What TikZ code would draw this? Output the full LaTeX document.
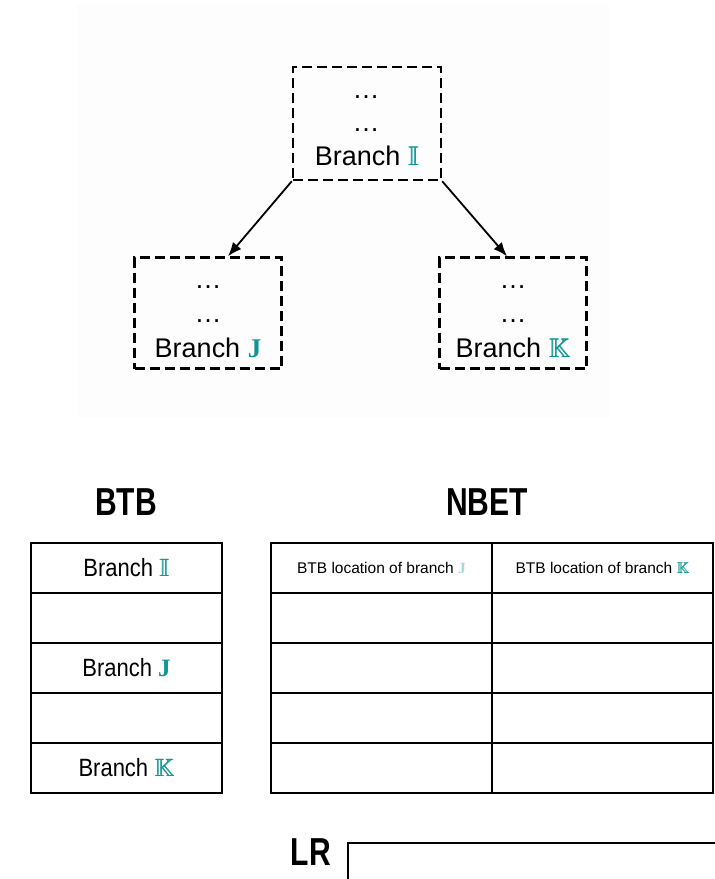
\documentclass[tikz,border=0pt]{standalone}
\usepackage{fontspec}
\usepackage{amssymb}
\setmainfont{Liberation Sans}
\newfontfamily\cellsans[FakeStretch=0.88]{Liberation Sans}
\newfontfamily\titlesans[FakeStretch=0.77]{Liberation Sans}
\newfontfamily\jserif{Liberation Serif}
\usetikzlibrary{arrows.meta}

\definecolor{branchteal}{RGB}{14,150,150}
\definecolor{paleteal}{RGB}{165,215,215}
\definecolor{panelbg}{RGB}{253,253,253}

% heavy double-struck letter: two copies set side by side
\newcommand\heavybb[1]{\rlap{$\mathbb{#1}$}\kern0.7pt$\mathbb{#1}$}
% branch letters
\newcommand\brI{\textcolor{branchteal}{\heavybb{I}}}
\newcommand\brJ{\textcolor{branchteal}{\jserif\bfseries J}}
\newcommand\brK{\textcolor{branchteal}{\heavybb{K}}}

\tikzset{
  dbox/.style={draw, dashed, line width=2.4pt, dash pattern=on 10pt off 5pt,
               minimum width=147pt, minimum height=111pt, inner sep=0pt},
  lbl/.style={anchor=base, inner sep=0pt, font=\fontsize{27}{30}\selectfont},
  link/.style={line width=1.8pt, -{Latex[length=14pt,width=11pt]}},
  cell/.style={draw, line width=1.6pt, minimum height=50pt, inner sep=0pt},
  btbcell/.style={cell, minimum width=191pt, font=\cellsans\fontsize{25}{28}\selectfont},
  nbetcell/.style={cell, minimum width=221pt, font=\fontsize{15.5}{18}\selectfont},
  title/.style={anchor=base, inner sep=0pt, font=\titlesans\bfseries\fontsize{39}{42}\selectfont},
}

\begin{document}
\begin{tikzpicture}[x=1pt, y=-1pt]
\useasboundingbox (0,0) rectangle (715,879);
\clip (0,0) rectangle (715,879);

% light panel behind the branch tree
\fill[panelbg] (77,5) rectangle (610,418);

% branch tree
\node[dbox, minimum width=148pt, minimum height=113pt] (bi) at (367,123.5) {};
\node[lbl] (bi1) at (366,98) {\dots};
\node[lbl] (bi2) at (366,131) {\dots};
\node[lbl] (bi3) at (367,165) {Branch \brI};

\node[dbox] (bj) at (208,313) {};
\node[lbl] (bj1) at (208,288) {\dots};
\node[lbl] (bj2) at (208,322) {\dots};
\node[lbl] (bj3) at (208,357) {Branch \brJ};

\node[dbox] (bk) at (513,313) {};
\node[lbl] (bk1) at (513,288) {\dots};
\node[lbl] (bk2) at (513,322) {\dots};
\node[lbl] (bk3) at (513,357) {Branch \brK};

\draw[link] (bi.south west) -- ([xshift=20pt]bj.north);
\draw[link] (bi.south east) -- ([xshift=-6pt]bk.north);

% BTB table
\node[title] (btbt) at (126,515) {BTB};
\node[btbcell] (b1) at (126.5,568) {Branch \brI};
\node[btbcell] (b2) at (126.5,618) {};
\node[btbcell] (b3) at (126.5,668) {Branch \brJ};
\node[btbcell] (b4) at (126.5,718) {};
\node[btbcell] (b5) at (126.5,768) {Branch \brK};

% NBET table
\node[title] (nbett) at (487,515) {NBET};
\node[nbetcell] (n11) at (381.5,568) {BTB location of branch \textcolor{paleteal}{\jserif\bfseries J}};
\node[nbetcell] (n12) at (602.5,568) {BTB location of branch \brK};
\foreach \r/\y in {2/618,3/668,4/718,5/768}{
  \node[nbetcell] (n\r1) at (381.5,\y) {};
  \node[nbetcell] (n\r2) at (602.5,\y) {};
}

% LR register
\node[title] (lrt) at (311,865) {LR};
\node[draw, line width=1.6pt, anchor=north west, minimum width=400pt,
      minimum height=80pt, inner sep=0pt] (lr) at (347,842) {};
\end{tikzpicture}
\end{document}
